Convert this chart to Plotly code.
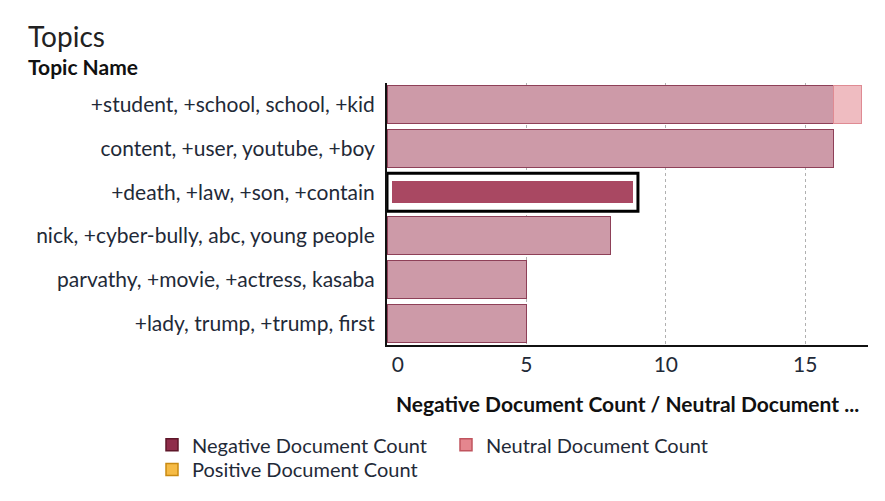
import plotly.graph_objects as go

topics = [
    "+student, +school, school, +kid",
    "content, +user, youtube, +boy",
    "+death, +law, +son, +contain",
    "nick, +cyber-bully, abc, young people",
    "parvathy, +movie, +actress, kasaba",
    "+lady, trump, +trump, first",
]
negative = [16, 16, 9, 8, 5, 5]
neutral = [1, 0, 0, 0, 0, 0]
positive = [0, 0, 0, 0, 0, 0]
selected = 2  # highlighted topic index
x_ticks = [0, 5, 10, 15]

FONT = "Lato"
FS = 21
TXT = "#1f2a38"
base_col = "#cd9aa8"
sel_col = "#a94862"
n = len(topics)
neg_fill = [sel_col if i == selected else base_col for i in range(n)]
neg_line_col = ["white" if i == selected else "#8e4058" for i in range(n)]
neg_line_w = [10 if i == selected else 1 for i in range(n)]
neg_width = [0.73 if i == selected else 0.87 for i in range(n)]


def nz(vals):
    return [v if v else None for v in vals]


fig = go.Figure()
fig.add_trace(go.Bar(
    y=topics, x=negative, orientation="h", name="Negative Document Count",
    width=neg_width, showlegend=False,
    marker=dict(color=neg_fill, line=dict(color=neg_line_col, width=neg_line_w)),
))
fig.add_trace(go.Bar(
    y=topics, x=nz(neutral), orientation="h", name="Neutral Document Count",
    width=0.87, showlegend=False,
    marker=dict(color="#efbcc1", line=dict(color="#df8b93", width=1)),
))
fig.add_trace(go.Bar(
    y=topics, x=nz(positive), orientation="h", name="Positive Document Count",
    width=0.87, showlegend=False,
    marker=dict(color="#f6c05a", line=dict(color="#d9961c", width=1)),
))

# legend entries (series swatches)
legend_items = [
    ("Negative Document Count", "#8f2d4a", "#5e1629", "legend"),
    ("Neutral Document Count", "#e4868e", "#c0545e", "legend"),
    ("Positive Document Count", "#f6bb45", "#c98a12", "legend2"),
]
for name, col, lcol, leg in legend_items:
    fig.add_trace(go.Bar(y=[None], x=[None], orientation="h", name=name,
                         marker=dict(color=col, line=dict(color=lcol, width=1.5)),
                         legend=leg, showlegend=True))

# selection outline around highlighted bar
fig.add_shape(type="rect", xref="x", yref="y",
              x0=0, x1=negative[selected],
              y0=selected - 0.435, y1=selected + 0.435,
              line=dict(color="black", width=3), fillcolor="rgba(0,0,0,0)")

PL, PR, PT, PB = 387, 868, 83, 348
pw, ph = PR - PL, PB - PT


def px_x(x):
    return (x - PL) / pw


def px_y(y):
    return (PB - y) / ph


leg_common = dict(orientation="h", xanchor="left", yanchor="middle",
                  font=dict(size=20, color=TXT), bgcolor="rgba(0,0,0,0)",
                  itemwidth=30, entrywidth=249, traceorder="normal")

tick_text = [("\u00a0" * 4 + str(t)) if t == 0 else str(t) for t in x_ticks]

fig.update_layout(
    width=885, height=501,
    margin=dict(l=PL, r=885 - PR, t=PT, b=501 - PB),
    paper_bgcolor="white", plot_bgcolor="white",
    barmode="stack",
    font=dict(family=FONT, color=TXT, size=FS),
    showlegend=True,
    legend=dict(x=px_x(152), y=px_y(449), **leg_common),
    legend2=dict(x=px_x(152), y=px_y(474), **leg_common),
    xaxis=dict(
        range=[0, 17.25], tickvals=x_ticks, ticktext=tick_text,
        showgrid=True, gridcolor="#b0b0b0", griddash="dot", gridwidth=1,
        showline=True, linecolor="#111", linewidth=2,
        ticks="", tickfont=dict(size=FS, color=TXT),
        zeroline=False,
        title=dict(text="<b>Negative Document Count / Neutral Document ...</b>",
                   font=dict(size=FS, color="#111"), standoff=22),
    ),
    yaxis=dict(
        autorange="reversed", showline=True, linecolor="#111", linewidth=2,
        ticks="", tickfont=dict(size=FS, color=TXT), ticklabelstandoff=6,
        showgrid=False,
    ),
    annotations=[
        dict(text="Topics", xref="paper", yref="paper", x=px_x(26), y=px_y(35),
             xanchor="left", yanchor="middle", showarrow=False,
             font=dict(size=28, color="#222", family=FONT)),
        dict(text="<b>Topic Name</b>", xref="paper", yref="paper", x=px_x(26),
             y=px_y(66), xanchor="left", yanchor="middle", showarrow=False,
             font=dict(size=FS, color="#111", family=FONT)),
    ],
)

fig.write_html("out.html")
